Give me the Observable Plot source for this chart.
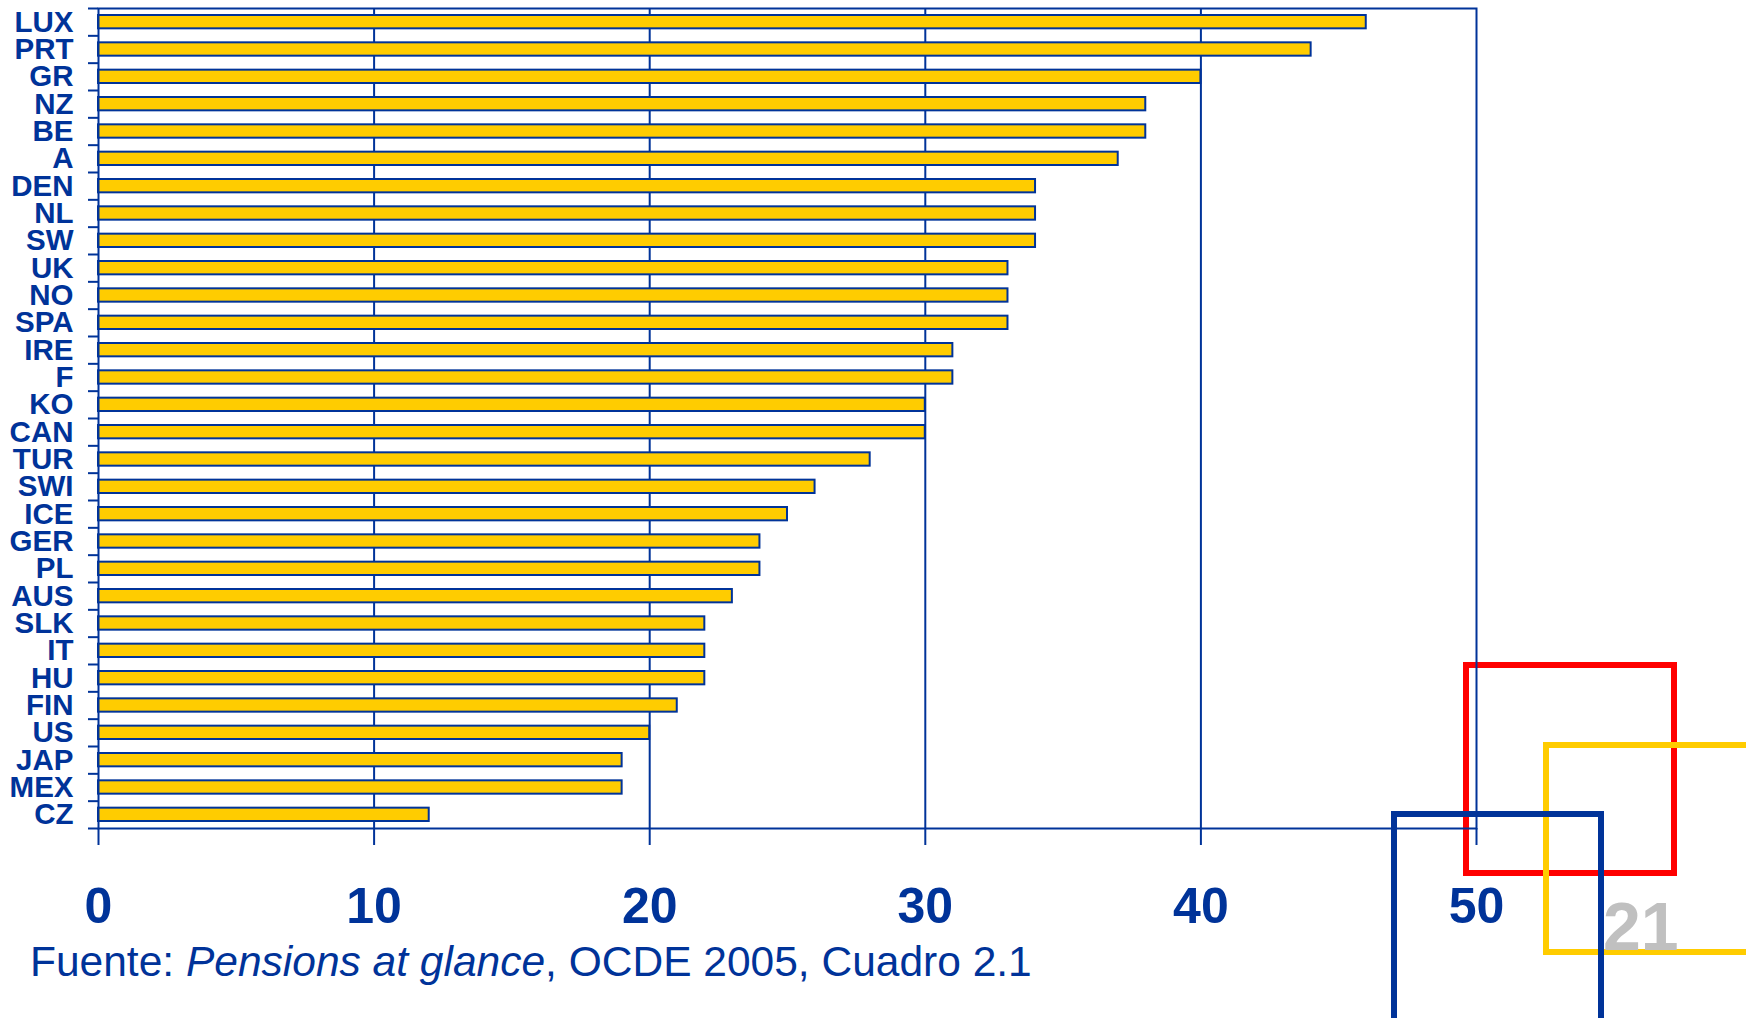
<!DOCTYPE html>
<html>
<head>
<meta charset="utf-8">
<script src="https://cdn.jsdelivr.net/npm/d3@7"></script>
<script src="https://cdn.jsdelivr.net/npm/@observablehq/plot@0.6"></script>
<style>
  html, body { margin: 0; padding: 0; background: #fff; }
  #page { position: relative; width: 1746px; height: 1018px; overflow: hidden; background: #fff; font-family: "Liberation Sans", Arial, sans-serif; }
  #chart { position: absolute; left: 0; top: 0; z-index: 2; }
  .sq { position: absolute; box-sizing: border-box; border-style: solid; border-width: 6px; z-index: 1; }
  #caption { position: absolute; left: 30px; top: 941px; font-size: 42.5px; line-height: 42px; color: #003399; white-space: nowrap; z-index: 3; }
  #num { position: absolute; left: 1603px; top: 891px; font-size: 68px; line-height: 70px; font-weight: bold; color: #c0c0c0; z-index: 1; }
</style>
</head>
<body>
<div id="page">
  <div class="sq" style="left:1463px; top:662px; width:214px; height:214px; border-color:#ff0000;"></div>
  <div class="sq" style="left:1543px; top:742px; width:214px; height:213px; border-color:#ffcc00;"></div>
  <div class="sq" style="left:1391px; top:811px; width:213px; height:240px; border-color:#003399;"></div>
  <div id="num">21</div>
  <div id="chart"></div>
  <div id="caption">Fuente: <i>Pensions at glance</i>, OCDE 2005, Cuadro 2.1</div>
</div>
<script>
const countries = ["LUX","PRT","GR","NZ","BE","A","DEN","NL","SW","UK","NO","SPA","IRE","F","KO","CAN","TUR","SWI","ICE","GER","PL","AUS","SLK","IT","HU","FIN","US","JAP","MEX","CZ"];
const values = [46,44,40,38,38,37,34,34,34,33,33,33,31,31,30,30,28,26,25,24,24,23,22,22,22,21,20,19,19,12];
const xTicks = [0,10,20,30,40,50];
const gridTicks = [10,20,30,40];

const blue = "#003399";
const gold = "#ffcc00";

const data = countries.map((c, i) => ({country: c, value: values[i], i}));
const n = countries.length;

const chart = Plot.plot({
  width: 1746,
  height: 935,
  marginLeft: 98,
  marginRight: 270,
  marginTop: 8,
  marginBottom: 107,
  style: {fontFamily: "'Liberation Sans', Arial, sans-serif", color: blue, background: "transparent", overflow: "visible"},
  x: {domain: [0, 50]},
  y: {domain: [0, n], reverse: true},
  marks: [
    Plot.gridX({ticks: gridTicks, stroke: blue, strokeOpacity: 1, strokeWidth: 2}),
    Plot.rectX(data, {x1: 0, x2: "value", y1: "i", y2: d => d.i + 1, insetTop: 7, insetBottom: 7, fill: gold, stroke: blue, strokeWidth: 2}),
    Plot.frame({stroke: blue, strokeWidth: 2}),
    Plot.axisX({ticks: xTicks, tickSize: 17, tickPadding: 42, strokeWidth: 2, fontSize: 50, fontWeight: "bold", label: null, tickFormat: d => d}),
    Plot.axisY({ticks: d3.range(n + 1), tickSize: 10, strokeWidth: 2, tickFormat: () => "", label: null}),
    Plot.axisY({ticks: d3.range(n).map(i => i + 0.5), tickSize: 0, tickPadding: 25, fontSize: 29.5, fontWeight: "bold", label: null, tickFormat: v => countries[Math.floor(v)]})
  ]
});
document.getElementById("chart").appendChild(chart);
</script>
</body>
</html>
